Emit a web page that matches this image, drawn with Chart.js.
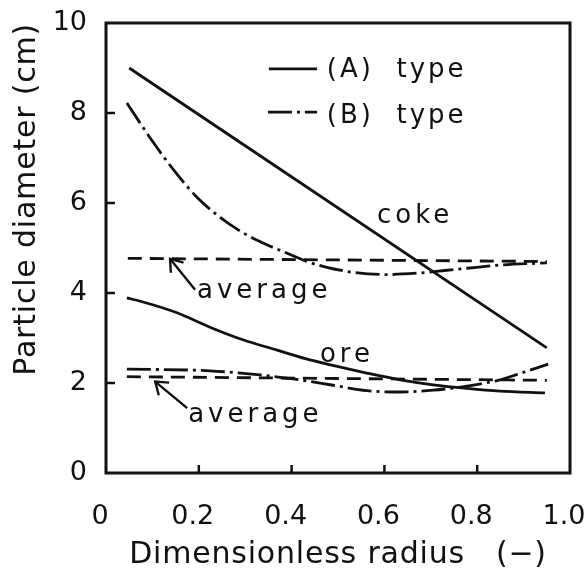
<!DOCTYPE html>
<html><head><meta charset="utf-8">
<script src="https://cdn.jsdelivr.net/npm/chart.js@4"></script>
<style>html,body{margin:0;padding:0;background:#fff}canvas{display:block}</style>
</head><body>
<canvas id="c" width="584" height="568"></canvas>
<script>
// ---- data ----
const xTickLabels = ['0', '0.2', '0.4', '0.6', '0.8', '1.0'];
const yTickLabels = ['0', '2', '4', '6', '8', '10'];

const cokeA = [[0.05, 9.0], [0.95, 2.78]];
const cokeB = [[0.045, 8.22], [0.101, 7.36], [0.153, 6.64], [0.196, 6.13], [0.246, 5.68],
  [0.295, 5.34], [0.349, 5.06], [0.375, 4.95], [0.433, 4.70], [0.476, 4.57], [0.532, 4.46],
  [0.606, 4.41], [0.670, 4.44], [0.730, 4.50], [0.778, 4.55], [0.849, 4.62], [0.950, 4.67]];
const cokeAvg = [[0.047, 4.77], [0.95, 4.70]];

const oreA = [[0.045, 3.89], [0.080, 3.80], [0.153, 3.56], [0.224, 3.24], [0.295, 2.96],
  [0.369, 2.73], [0.430, 2.54], [0.489, 2.39], [0.562, 2.22], [0.634, 2.07], [0.705, 1.96],
  [0.778, 1.88], [0.849, 1.82], [0.946, 1.78]];
const oreB = [[0.045, 2.31], [0.224, 2.27], [0.332, 2.18], [0.403, 2.09], [0.489, 1.95],
  [0.562, 1.83], [0.634, 1.80], [0.705, 1.84], [0.778, 1.93], [0.849, 2.07], [0.886, 2.19],
  [0.953, 2.42]];
const oreAvg = [[0.045, 2.14], [0.95, 2.06]];

const legendLabels = ['(A)  type', '(B)  type'];
const xTitle = 'Dimensionless radius   (\u2212)';
const yTitle = 'Particle diameter (cm)';

// annotation texts (data coordinates of text start / baseline)
const noteTexts = ['coke', 'ore', 'average', 'average'];
const notePos = [[0.584, 5.56], [0.461, 2.47], [0.196, 3.89], [0.177, 1.13]];
// arrows: [tailX, tailY, tipX, tipY]
const arrows = [[0.192, 4.07, 0.138, 4.76], [0.175, 1.44, 0.106, 2.03]];
// legend sample line positions: [x1, x2, y] and text [x, y]
const legendLine = [[0.351, 0.455, 8.98], [0.349, 0.455, 8.02]];
const legendText = [[0.476, 8.94], [0.476, 7.93]];

// ---- styles ----
const INK = '#111';
const DASHDOT = [24, 5, 3, 5];
const DASHED = [14, 8];
const FONT = 'DejaVu Sans';

function pts(a) { return a.map(p => ({x: p[0], y: p[1]})); }
function ds(data, dash) {
  return {data: pts(data), borderColor: INK, borderWidth: 2.8, borderDash: dash || [],
    pointRadius: 0, fill: false, cubicInterpolationMode: 'monotone', borderCapStyle: 'butt'};
}

const spacingPlugin = {
  id: 'spacing',
  beforeDraw(chart) { chart.ctx.letterSpacing = '0.8px'; },
  beforeDatasetsDraw(chart) { chart.ctx.letterSpacing = '0px'; }
};

const decorPlugin = {
  id: 'decor',
  afterDatasetsDraw(chart) {
    const {ctx, chartArea: a, scales: {x, y}} = chart;
    ctx.save();
    ctx.strokeStyle = INK; ctx.fillStyle = INK;
    // frame
    ctx.lineWidth = 3; ctx.setLineDash([]);
    ctx.strokeRect(a.left, a.top, a.right - a.left, a.bottom - a.top);
    // inward ticks
    ctx.lineWidth = 2.5;
    y.ticks.forEach(t => {
      if (t.value <= y.min || t.value >= y.max) return;
      const py = y.getPixelForValue(t.value);
      ctx.beginPath(); ctx.moveTo(a.left, py); ctx.lineTo(a.left + 9, py); ctx.stroke();
    });
    x.ticks.forEach(t => {
      if (t.value <= x.min + 1e-9 || t.value >= x.max - 1e-9) return;
      const px = x.getPixelForValue(t.value);
      ctx.beginPath(); ctx.moveTo(px, a.bottom); ctx.lineTo(px, a.bottom - 8); ctx.stroke();
    });
    // legend
    ctx.lineWidth = 2.8;
    const styles = [[], DASHDOT];
    legendLine.forEach((l, i) => {
      ctx.setLineDash(styles[i]);
      const py = y.getPixelForValue(l[2]);
      ctx.beginPath(); ctx.moveTo(x.getPixelForValue(l[0]), py);
      ctx.lineTo(x.getPixelForValue(l[1]), py); ctx.stroke();
    });
    ctx.setLineDash([]);
    ctx.font = '26px "' + FONT + '"';
    ctx.letterSpacing = '3px';
    ctx.textBaseline = 'middle'; ctx.textAlign = 'left';
    legendLabels.forEach((t, i) => {
      ctx.fillText(t, x.getPixelForValue(legendText[i][0]), y.getPixelForValue(legendText[i][1]));
    });
    // annotation texts
    ctx.letterSpacing = '4px';
    ctx.textBaseline = 'alphabetic';
    noteTexts.forEach((t, i) => {
      ctx.fillText(t, x.getPixelForValue(notePos[i][0]), y.getPixelForValue(notePos[i][1]));
    });
    // arrows
    ctx.lineWidth = 2.4;
    arrows.forEach(ar => {
      const x1 = x.getPixelForValue(ar[0]), y1 = y.getPixelForValue(ar[1]);
      const x2 = x.getPixelForValue(ar[2]), y2 = y.getPixelForValue(ar[3]);
      ctx.beginPath(); ctx.moveTo(x1, y1); ctx.lineTo(x2, y2); ctx.stroke();
      const ang = Math.atan2(y1 - y2, x1 - x2);
      const L = 14, h = 0.62;
      ctx.beginPath();
      ctx.moveTo(x2 + L * Math.cos(ang + h), y2 + L * Math.sin(ang + h));
      ctx.lineTo(x2, y2);
      ctx.lineTo(x2 + L * Math.cos(ang - h), y2 + L * Math.sin(ang - h));
      ctx.stroke();
    });
    ctx.restore();
    ctx.letterSpacing = '0px';
  }
};

new Chart(document.getElementById('c'), {
  type: 'line',
  data: {
    datasets: [ds(cokeA), ds(cokeB, DASHDOT), ds(cokeAvg, DASHED),
               ds(oreA), ds(oreB, DASHDOT), ds(oreAvg, DASHED)]
  },
  options: {
    responsive: false, animation: false, events: [],
    layout: {padding: {left: 0, top: 23, right: 14, bottom: 0}},
    plugins: {legend: {display: false}, tooltip: {enabled: false}},
    scales: {
      x: {
        type: 'linear', min: 0, max: 1.0,
        grid: {display: false}, border: {display: false},
        ticks: {stepSize: 0.2, padding: 20, labelOffset: -6, z: 1, color: INK, maxRotation: 0,
          font: {family: FONT, size: 27},
          callback: (v, i) => xTickLabels[i]},
        title: {display: true, text: xTitle, color: INK,
          font: {family: FONT, size: 30, lineHeight: 1}, padding: {top: 0, bottom: -2}},
        afterFit(s) { s.height = 95; s.paddingLeft = 0; s.paddingRight = 0; }
      },
      y: {
        type: 'linear', min: 0, max: 10,
        grid: {display: false}, border: {display: false},
        ticks: {stepSize: 2, padding: 11, z: 1, color: INK,
          font: {family: FONT, size: 27},
          callback: (v, i) => yTickLabels[i]},
        title: {display: true, text: yTitle, color: INK, align: 'end',
          font: {family: FONT, size: 30, lineHeight: 1}, padding: {top: 12, bottom: 0}},
        afterFit(s) { s.width = 106; s.paddingTop = 0; s.paddingBottom = 0; }
      }
    }
  },
  plugins: [spacingPlugin, decorPlugin]
});
</script>
</body></html>
